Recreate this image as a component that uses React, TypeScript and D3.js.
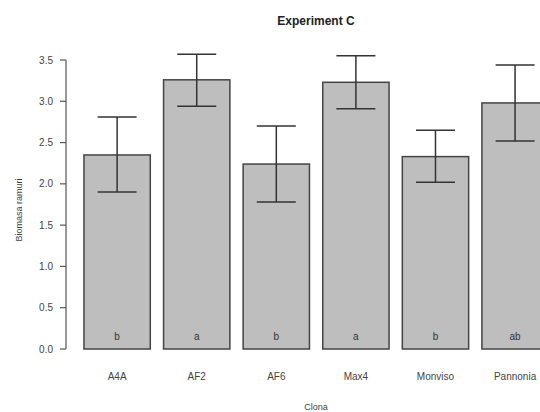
import React from 'react';
import * as d3 from 'd3';

// values
const clones = ['A4A', 'AF2', 'AF6', 'Max4', 'Monviso', 'Pannonia'];
const means = [2.35, 3.26, 2.24, 3.23, 2.33, 2.98];
const upper = [2.81, 3.57, 2.70, 3.55, 2.65, 3.44];
const lower = [1.90, 2.94, 1.78, 2.91, 2.02, 2.52];
const letters = ['b', 'a', 'b', 'a', 'b', 'ab'];
const yTicks = [0, 0.5, 1, 1.5, 2, 2.5, 3, 3.5];

const W = 540;
const H = 412;

export default function App() {
  // R barplot style: width 1, space 0.2
  const x = d3.scaleLinear().domain([0, 7.4]).range([70.7, 561.5]);
  const y = d3.scaleLinear().domain([0, 3.5]).range([349, 60]);
  const barW = x(1) - x(0);
  const left = (i: number) => x(0.2 + 1.2 * i);
  const mid = (i: number) => left(i) + barW / 2;
  const axisX = 66;
  const capHalf = 19.5;
  const font = '"Liberation Sans", Arial, sans-serif';

  return (
    <svg width={W} height={H} style={{ position: 'absolute', left: 0, top: 0, background: '#fff' }}
      fontFamily={font}>
      <text x={316} y={25} textAnchor="middle" fontSize={12} fontWeight="bold" fill="#222">Experiment C</text>

      {/* bars */}
      {clones.map((c, i) => (
        <rect key={c} x={left(i)} y={y(means[i])} width={barW} height={y(0) - y(means[i])}
          fill="#bebebe" stroke="#444" strokeWidth={1.5} />
      ))}

      {/* error bars */}
      {clones.map((c, i) => (
        <g key={'e' + c} stroke="#333" strokeWidth={1.5}>
          <line x1={mid(i)} x2={mid(i)} y1={y(upper[i])} y2={y(lower[i])} />
          <line x1={mid(i) - capHalf} x2={mid(i) + capHalf} y1={y(upper[i])} y2={y(upper[i])} />
          <line x1={mid(i) - capHalf} x2={mid(i) + capHalf} y1={y(lower[i])} y2={y(lower[i])} />
        </g>
      ))}

      {/* significance letters */}
      {clones.map((c, i) => (
        <text key={'l' + c} x={mid(i)} y={340} textAnchor="middle" fontSize={10} fill="#333">{letters[i]}</text>
      ))}

      {/* y axis */}
      <line x1={axisX} x2={axisX} y1={y(0)} y2={y(3.5)} stroke="#555" strokeWidth={1.2} />
      {yTicks.map(t => (
        <g key={t}>
          <line x1={axisX - 6} x2={axisX} y1={y(t)} y2={y(t)} stroke="#555" strokeWidth={1.2} />
          <text x={53} y={y(t) + 3.5} textAnchor="end" fontSize={10} fill="#444">{d3.format('.1f')(t)}</text>
        </g>
      ))}

      {/* category labels */}
      {clones.map((c, i) => (
        <text key={'c' + c} x={mid(i)} y={380} textAnchor="middle" fontSize={10} fill="#444">{c}</text>
      ))}

      <text x={316} y={410} textAnchor="middle" fontSize={9} fill="#444">Clona</text>
      <text transform={`translate(22,210) rotate(-90)`} textAnchor="middle" fontSize={9} fill="#444">Biomasa ramuri</text>
    </svg>
  );
}
